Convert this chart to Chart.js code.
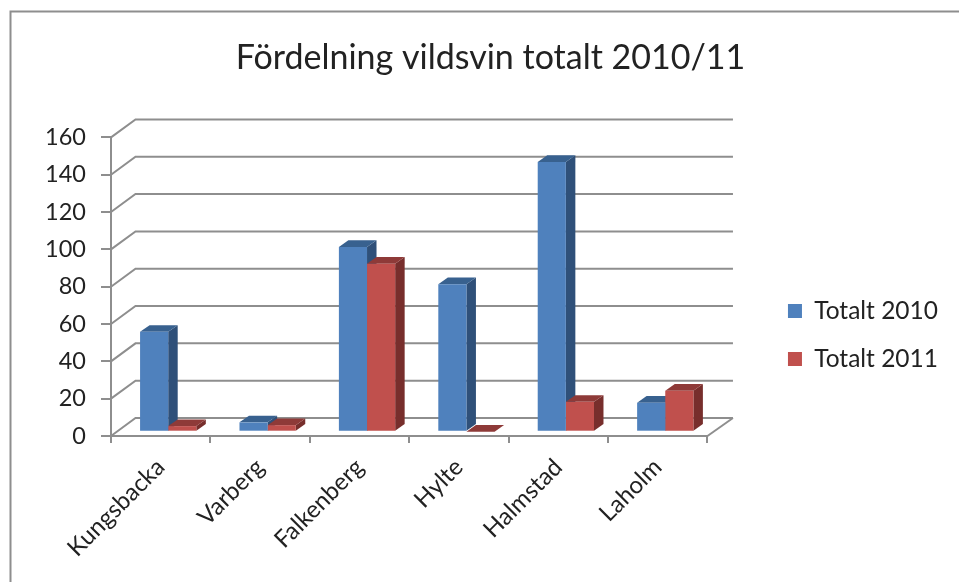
<!DOCTYPE html>
<html>
<head>
<meta charset="utf-8">
<title>Fördelning vildsvin</title>
<script src="https://cdn.jsdelivr.net/npm/chart.js@4/dist/chart.umd.min.js"></script>
<style>
    html, body { margin: 0; padding: 0; background: #fff; }
    #wrap { position: relative; width: 959px; height: 582px; }
</style>
</head>
<body>
<div id="wrap"><canvas id="chart" width="959" height="582"></canvas></div>
<script>
const categories = ['Kungsbacka', 'Varberg', 'Falkenberg', 'Hylte', 'Halmstad', 'Laholm'];
const totalt2010 = [53.5, 5, 99, 79, 144.5, 15.5];
const totalt2011 = [3, 3.5, 90, 0, 16, 22];
const yTicks = [0, 20, 40, 60, 80, 100, 120, 140, 160];

const axisGrey = '#8e8e8e';
const depthX = 9.5, depthY = 6.7;   // bar depth
const wallX = 24.5, wallY = 18;     // back wall offset
const shiftX = 7.5, shiftY = -4.3;  // bars stand in the middle of the floor

const faces = [
    { front: '#4f81bd', top: '#38618f', side: '#2f5079' },
    { front: '#c0504d', top: '#8e3a38', side: '#772e2c' }
];

// back wall, floor and frame
const wallPlugin = {
    id: 'wall',
    beforeDatasetsDraw(chart) {
        const { ctx, chartArea: area, scales: { y } } = chart;
        ctx.save();
        ctx.strokeStyle = axisGrey;
        ctx.lineWidth = 2;
        // frame, only top and left are in the crop
        ctx.beginPath();
        ctx.moveTo(10.5, 582);
        ctx.lineTo(10.5, 11.5);
        ctx.lineTo(959, 11.5);
        ctx.stroke();
        yTicks.forEach(v => {
            const py = y.getPixelForValue(v);
            ctx.beginPath();
            ctx.moveTo(area.left, py);
            ctx.lineTo(area.left + wallX, py - wallY);
            ctx.lineTo(area.right + wallX + 1, py - wallY);
            ctx.stroke();
        });
        const y0 = y.getPixelForValue(0);
        ctx.beginPath();
        ctx.moveTo(area.right, y0);
        ctx.lineTo(area.right + wallX + 1, y0 - wallY);
        ctx.stroke();
        ctx.restore();

        // bars and their 3d faces get moved together
        ctx.save();
        ctx.translate(shiftX, shiftY);
        chart.data.datasets.forEach((ds, i) => {
            chart.getDatasetMeta(i).data.forEach(bar => {
                const left = bar.x - bar.width / 2;
                const right = bar.x + bar.width / 2;
                ctx.fillStyle = faces[i].side;
                ctx.beginPath();
                ctx.moveTo(right, bar.y);
                ctx.lineTo(right + depthX, bar.y - depthY);
                ctx.lineTo(right + depthX, bar.base - depthY);
                ctx.lineTo(right, bar.base);
                ctx.fill();
                ctx.fillStyle = faces[i].top;
                ctx.beginPath();
                ctx.moveTo(left, bar.y);
                ctx.lineTo(left + depthX, bar.y - depthY);
                ctx.lineTo(right + depthX, bar.y - depthY);
                ctx.lineTo(right, bar.y);
                ctx.fill();
            });
        });
    },
    afterDatasetsDraw(chart) {
        chart.ctx.restore();
    },
    afterLayout(chart) {
        // legend sits lower and further right than the layout puts it
        const legend = chart.legend;
        legend.left += 57;
        legend.right += 57;
        legend.top += 44;
        legend.bottom += 44;
        // title is centred a bit right of the canvas centre
        chart.titleBlock.left += 45;
        chart.titleBlock.right += 45;
    }
};

new Chart(document.getElementById('chart'), {
    type: 'bar',
    data: {
        labels: categories,
        datasets: [
            { label: 'Totalt 2010', data: totalt2010, backgroundColor: faces[0].front },
            { label: 'Totalt 2011', data: totalt2011, backgroundColor: faces[1].front }
        ]
    },
    plugins: [wallPlugin],
    options: {
        responsive: false,
        animation: false,
        clip: false,
        categoryPercentage: 0.566,
        barPercentage: 1,
        layout: { padding: { top: 0, left: 0, right: 68, bottom: 0 } },
        plugins: {
            tooltip: { enabled: false },
            title: {
                display: true,
                text: 'Fördelning vildsvin totalt 2010/11',
                color: '#222',
                font: { family: 'Lato', size: 34, weight: 'normal' },
                padding: { top: 37.6, bottom: 59 }
            },
            legend: {
                position: 'right',
                labels: {
                    color: '#222',
                    font: { family: 'Lato', size: 24.5 },
                    boxWidth: 14,
                    boxHeight: 14,
                    padding: 23.5
                }
            }
        },
        scales: {
            x: {
                afterFit(scale) { scale.height = 146; },
                border: { color: axisGrey, width: 2 },
                grid: { drawOnChartArea: false, color: axisGrey, lineWidth: 2, tickLength: 7 },
                ticks: {
                    color: '#222',
                    font: { family: 'Lato', size: 24 },
                    minRotation: 45,
                    maxRotation: 45,
                    padding: 10
                }
            },
            y: {
                min: 0,
                max: 160,
                afterFit(scale) { scale.width = 111; },
                border: { color: axisGrey, width: 2 },
                grid: { drawOnChartArea: false, color: axisGrey, lineWidth: 2, tickLength: 10 },
                ticks: {
                    color: '#222',
                    stepSize: 20,
                    font: { family: 'Lato', size: 23.5 },
                    padding: 15
                }
            }
        }
    }
});
</script>
</body>
</html>
